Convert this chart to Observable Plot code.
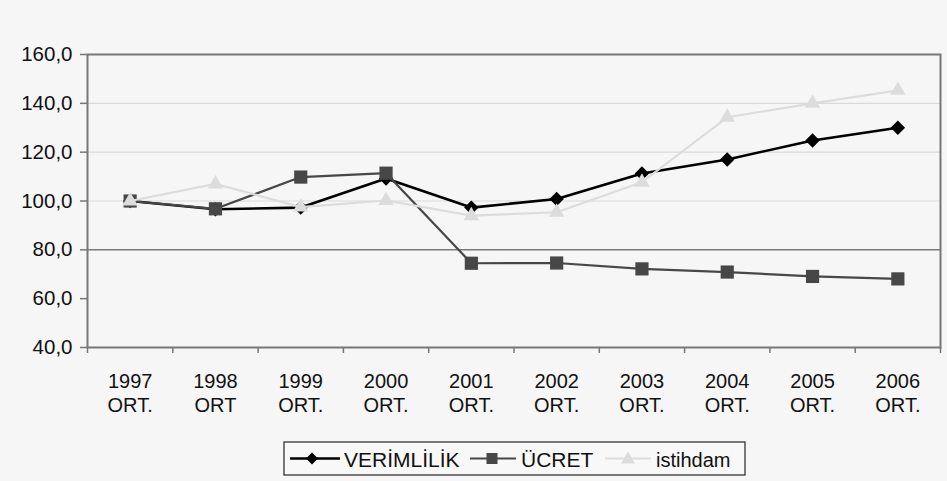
<!DOCTYPE html>
<html>
<head>
<meta charset="utf-8">
<script src="https://cdn.jsdelivr.net/npm/d3@7"></script>
<script src="https://cdn.jsdelivr.net/npm/@observablehq/plot@0.6"></script>
<style>
  html, body { margin: 0; padding: 0; background: #f6f6f6; }
  #wrap { position: relative; width: 947px; height: 481px; overflow: hidden; font-family: "Liberation Sans", Arial, sans-serif; }
  #chart svg { display: block; }
  #legend { position: absolute; left: 283px; top: 441px; display: block; }
</style>
</head>
<body>
<div id="wrap">
  <div id="chart"></div>
  <svg id="legend" width="464" height="36" viewBox="283 441 464 36"></svg>
</div>
<script>
const years = [1997, 1998, 1999, 2000, 2001, 2002, 2003, 2004, 2005, 2006];
const yearLabels = ["1997\nORT.", "1998\nORT", "1999\nORT.", "2000\nORT.", "2001\nORT.", "2002\nORT.", "2003\nORT.", "2004\nORT.", "2005\nORT.", "2006\nORT."];
const seriesNames = ["VERİMLİLİK", "ÜCRET", "istihdam"];
const verimlilik = [100.0, 96.6, 97.3, 109.2, 97.3, 100.8, 111.3, 117.0, 124.8, 130.0];
const ucret = [100.0, 96.8, 109.8, 111.4, 74.5, 74.6, 72.2, 70.9, 69.1, 68.1];
const istihdam = [100.0, 107.0, 97.5, 100.2, 94.0, 95.4, 107.7, 134.3, 140.0, 145.3];
const yTicks = [40, 60, 80, 100, 120, 140, 160];

const colors = { "VERİMLİLİK": "#000000", "ÜCRET": "#474747", "istihdam": "#dcdcdc" };
const symbols = { "VERİMLİLİK": "diamond2", "ÜCRET": "square2", "istihdam": "triangle2" };
const radii = { "VERİMLİLİK": 6.5, "ÜCRET": 8.4, "istihdam": 7.4 };
const widths = { "VERİMLİLİK": 2.6, "ÜCRET": 2.2, "istihdam": 2.2 };

const valuesBySeries = [verimlilik, ucret, istihdam];
const data = [];
seriesNames.forEach((s, si) => years.forEach((yr, i) => data.push({ series: s, year: yr, value: valuesBySeries[si][i] })));

const boundaries = d3.range(years[0] - 0.5, years[years.length - 1] + 1, 1);
const labelOf = new Map(years.map((y, i) => [y, yearLabels[i]]));
const fmt = d => d.toFixed(1).replace(".", ",");

const marks = [
  Plot.ruleY([100, 120, 140], { stroke: "#d9d9d9", strokeWidth: 1.2 }),
  Plot.ruleY([80], { stroke: "#7a7a7a", strokeWidth: 1.5 }),
  Plot.frame({ stroke: "#777", strokeWidth: 2 }),
  Plot.axisY({ ticks: yTicks, tickFormat: fmt, tickSize: 7, tickPadding: 8, fontSize: 20.5, stroke: "#777", strokeWidth: 1.5, fill: "#111", label: null }),
  Plot.axisX({ ticks: boundaries, tickFormat: () => "", tickSize: 6, stroke: "#777", strokeWidth: 1.5, label: null }),
  Plot.axisX({ ticks: years, tickFormat: d => labelOf.get(d), tickSize: 0, tickPadding: 24, fontSize: 20, lineHeight: 1.17, fill: "#111", label: null, ariaLabel: "x-year-labels" })
];
seriesNames.forEach(s => {
  const d = data.filter(r => r.series === s);
  marks.push(Plot.line(d, { x: "year", y: "value", stroke: colors[s], strokeWidth: widths[s] }));
  marks.push(Plot.dot(d, { x: "year", y: "value", symbol: () => symbols[s], r: radii[s], fill: colors[s], stroke: "none" }));
});

const chart = Plot.plot({
  width: 947,
  height: 436,
  marginLeft: 87,
  marginRight: 7,
  marginTop: 54,
  marginBottom: 89,
  style: { background: "transparent", fontFamily: "'Liberation Sans', Arial, sans-serif", color: "#111" },
  x: { type: "linear", domain: [years[0] - 0.5, years[years.length - 1] + 0.5] },
  y: { domain: [40, 160] },
  symbol: { type: "identity" },
  marks
});
document.getElementById("chart").appendChild(chart);

// stretch the year labels vertically (the original uses tall, narrow lettering)
chart.querySelectorAll('g[aria-label="x-year-labels"] text').forEach(t => {
  const tr = t.getAttribute("transform") || "";
  t.setAttribute("transform", tr + " scale(1,1.15)");
});

// legend
const ns = "http://www.w3.org/2000/svg";
const lg = document.getElementById("legend");
function el(tag, attrs, text) {
  const e = document.createElementNS(ns, tag);
  for (const k in attrs) e.setAttribute(k, attrs[k]);
  if (text) e.textContent = text;
  lg.appendChild(e);
  return e;
}
el("rect", { x: 284, y: 442, width: 461, height: 33, fill: "#f8f8f8", stroke: "#333", "stroke-width": 1.3 });
const items = [
  { s: "VERİMLİLİK", x0: 290, x1: 340, cx: 312, tx: 344 },
  { s: "ÜCRET", x0: 470, x1: 516, cx: 492, tx: 521 },
  { s: "istihdam", x0: 605, x1: 651, cx: 628, tx: 656 }
];
const cy = 458.5;
items.forEach(({ s, x0, x1, cx, tx }) => {
  el("line", { x1: x0, x2: x1, y1: cy, y2: cy, stroke: colors[s], "stroke-width": widths[s] });
  let d;
  if (s === "VERİMLİLİK") d = `M${cx},${cy - 6} L${cx + 6},${cy} L${cx},${cy + 6} L${cx - 6},${cy} Z`;
  else if (s === "ÜCRET") d = `M${cx - 5.5},${cy - 5.5} h11 v11 h-11 Z`;
  else d = `M${cx},${cy - 7} L${cx + 7},${cy + 5} L${cx - 7},${cy + 5} Z`;
  el("path", { d, fill: colors[s] });
  el("text", { x: tx, y: 466.5, "font-size": s === "istihdam" ? 20 : 21, fill: "#111", "font-family": "'Liberation Sans', Arial, sans-serif" }, s);
});
</script>
</body>
</html>
